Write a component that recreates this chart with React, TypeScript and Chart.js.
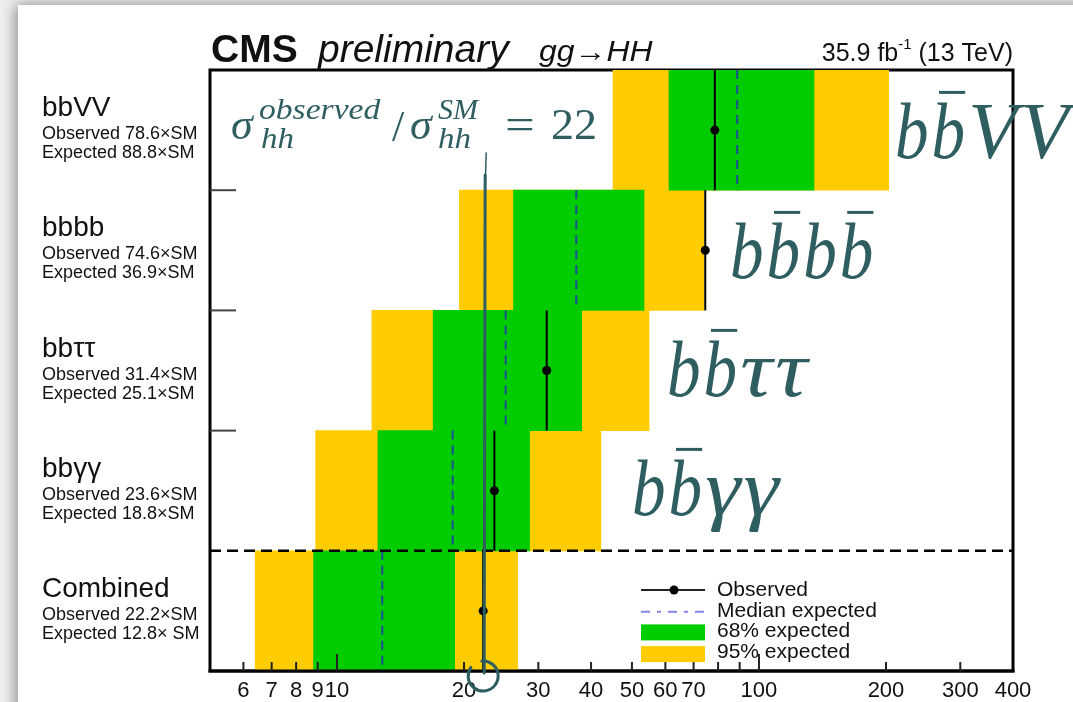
import React, { useEffect, useRef } from 'react';
import { Chart, registerables } from 'chart.js';

Chart.register(...registerables);

// ---------------- data ----------------
const categories = ['bbVV', 'bbbb', 'bbττ', 'bbγγ', 'Combined'];
const observedValues = [78.6, 74.6, 31.4, 23.6, 22.2];
const medianExpected = [88.8, 36.9, 25.1, 18.8, 12.8];
const low95 = [45.1, 19.5, 12.1, 8.9, 6.4];
const high95 = [203, 74.1, 54.9, 42.2, 26.8];
const low68 = [61.2, 26.2, 16.9, 12.5, 8.8];
const high68 = [135, 53.4, 38.0, 28.6, 19.0];
const observedText = [
  'Observed 78.6×SM',
  'Observed 74.6×SM',
  'Observed 31.4×SM',
  'Observed 23.6×SM',
  'Observed 22.2×SM',
];
const expectedText = [
  'Expected 88.8×SM',
  'Expected 36.9×SM',
  'Expected 25.1×SM',
  'Expected 18.8×SM',
  'Expected 12.8× SM',
];
const xTickValues = [6, 7, 8, 9, 10, 20, 30, 40, 50, 60, 70, 80, 90, 100, 200, 300, 400];
const xTickLabels = ['6', '7', '8', '9', '10', '20', '30', '40', '50', '60', '70', '', '', '100', '200', '300', '400'];
const xMajorTicks = [10, 100];
const annotatedRatio = 22.2;
const legendItems = ['Observed', 'Median expected', '68% expected', '95% expected'];

// ---------------- styles ----------------
const W = 1073;
const H = 702;
const YELLOW = '#ffcc00';
const GREEN = '#00cc00';
const MEDIAN_BLUE = '#1d4f93';
const TEAL = '#2f5e61';
const INK = '#111111';
const SANS = '"Liberation Sans", Arial, sans-serif';
const SERIF = '"Liberation Serif", "Times New Roman", serif';

type Part = { t: string; bar?: boolean; sx?: number };
const channelLabels: { parts: Part[]; x: number; base: number }[] = [
  { parts: [{ t: 'b' }, { t: 'b', bar: true }, { t: 'V', sx: 1.0 }, { t: 'V', sx: 1.0 }], x: 895, base: 158 },
  { parts: [{ t: 'b' }, { t: 'b', bar: true }, { t: 'b' }, { t: 'b', bar: true }], x: 730, base: 278 },
  { parts: [{ t: 'b' }, { t: 'b', bar: true }, { t: 'τ', sx: 1.12 }, { t: 'τ', sx: 1.12 }], x: 667, base: 396 },
  { parts: [{ t: 'b' }, { t: 'b', bar: true }, { t: 'γ', sx: 1.12 }, { t: 'γ', sx: 1.12 }], x: 632, base: 515 },
];

function drawScaled(ctx: CanvasRenderingContext2D, text: string, x: number, y: number, sx: number) {
  ctx.save();
  ctx.translate(x, y);
  ctx.scale(sx, 1);
  ctx.fillText(text, 0, 0);
  ctx.restore();
  return ctx.measureText(text).width * sx;
}

function drawChannel(ctx: CanvasRenderingContext2D, parts: Part[], x: number, base: number) {
  const size = 80;
  ctx.save();
  ctx.font = `italic ${size}px ${SERIF}`;
  ctx.fillStyle = TEAL;
  ctx.strokeStyle = TEAL;
  ctx.textBaseline = 'alphabetic';
  ctx.textAlign = 'left';
  let cx = x;
  for (const p of parts) {
    const w = drawScaled(ctx, p.t, cx, base, p.sx ?? 0.84);
    if (p.bar) {
      ctx.lineWidth = 3;
      ctx.beginPath();
      ctx.moveTo(cx + w * 0.22, base - size * 0.82);
      ctx.lineTo(cx + w * 1.0, base - size * 0.82);
      ctx.stroke();
    }
    cx += w + 3;
  }
  ctx.restore();
}

function drawFormula(ctx: CanvasRenderingContext2D) {
  ctx.save();
  ctx.fillStyle = TEAL;
  ctx.textBaseline = 'alphabetic';
  ctx.textAlign = 'left';
  const big = `italic 44px ${SERIF}`;
  const small = `italic 30px ${SERIF}`;
  ctx.font = big;
  drawScaled(ctx, 'σ', 231, 139, 1);
  ctx.font = small;
  drawScaled(ctx, 'observed', 259, 119, 1.12);
  drawScaled(ctx, 'hh', 261, 148, 1.1);
  ctx.font = `44px ${SERIF}`;
  drawScaled(ctx, '/', 392, 141, 1);
  ctx.font = big;
  drawScaled(ctx, 'σ', 410, 139, 1);
  ctx.font = small;
  drawScaled(ctx, 'SM', 438, 119, 1.0);
  drawScaled(ctx, 'hh', 438, 148, 1.1);
  ctx.font = `44px ${SERIF}`;
  drawScaled(ctx, '=', 505, 139, 1.2);
  drawScaled(ctx, '22', 551, 139, 1.05);
  ctx.restore();
}

const overlayPlugin = {
  id: 'overlay',
  beforeDraw(chart: any) {
    const ctx: CanvasRenderingContext2D = chart.ctx;
    ctx.save();
    ctx.fillStyle = '#efefef';
    ctx.fillRect(0, 0, W, H);
    ctx.shadowColor = 'rgba(0,0,0,0.45)';
    ctx.shadowBlur = 14;
    ctx.shadowOffsetX = -2;
    ctx.fillStyle = '#ffffff';
    ctx.fillRect(18, 5, W + 40, H + 40);
    ctx.restore();
  },
  beforeDatasetsDraw(chart: any) {
    const ctx: CanvasRenderingContext2D = chart.ctx;
    const a = chart.chartArea;
    ctx.save();
    ctx.strokeStyle = '#000';
    ctx.lineWidth = 3;
    ctx.strokeRect(a.left, a.top, a.right - a.left, a.bottom - a.top);
    ctx.restore();
  },
  afterDatasetsDraw(chart: any) {
    const ctx: CanvasRenderingContext2D = chart.ctx;
    const a = chart.chartArea;
    const xs = chart.scales.x;
    const ys = chart.scales.y;
    const rowH = Math.abs(ys.getPixelForValue(1) - ys.getPixelForValue(0));
    ctx.save();

    // bottom axis line & tick marks (inside)
    ctx.strokeStyle = '#000';
    ctx.lineWidth = 3;
    ctx.beginPath();
    ctx.moveTo(a.left - 1.5, a.bottom);
    ctx.lineTo(a.right + 1.5, a.bottom);
    ctx.stroke();
    ctx.lineWidth = 2;
    ctx.strokeStyle = '#222';
    for (const v of xTickValues) {
      const px = xs.getPixelForValue(v);
      if (px <= a.left + 2 || px >= a.right - 2) continue;
      const len = xMajorTicks.includes(v) ? 17 : 9;
      ctx.beginPath();
      ctx.moveTo(px, a.bottom);
      ctx.lineTo(px, a.bottom - len);
      ctx.stroke();
    }

    // left row ticks
    ctx.strokeStyle = '#444';
    ctx.lineWidth = 2;
    for (let i = 0; i < categories.length - 2; i++) {
      const y = ys.getPixelForValue(i) + rowH / 2;
      ctx.beginPath();
      ctx.moveTo(a.left, y);
      ctx.lineTo(a.left + 26, y);
      ctx.stroke();
    }

    // medians
    ctx.strokeStyle = MEDIAN_BLUE;
    ctx.lineWidth = 2;
    ctx.setLineDash([9, 6]);
    medianExpected.forEach((v, i) => {
      const px = xs.getPixelForValue(v);
      const yc = ys.getPixelForValue(i);
      ctx.beginPath();
      ctx.moveTo(px, yc - rowH / 2);
      ctx.lineTo(px, yc + rowH / 2);
      ctx.stroke();
    });
    ctx.setLineDash([]);

    // observed
    ctx.strokeStyle = '#000';
    ctx.fillStyle = '#000';
    ctx.lineWidth = 2;
    observedValues.forEach((v, i) => {
      const px = xs.getPixelForValue(v);
      const yc = ys.getPixelForValue(i);
      ctx.beginPath();
      ctx.moveTo(px, yc - rowH / 2);
      ctx.lineTo(px, yc + rowH / 2);
      ctx.stroke();
      ctx.beginPath();
      ctx.arc(px, yc, 4.5, 0, Math.PI * 2);
      ctx.fill();
    });

    // dashed separator before Combined
    const sepY = ys.getPixelForValue(categories.length - 1) - rowH / 2;
    ctx.strokeStyle = '#000';
    ctx.lineWidth = 2.5;
    ctx.setLineDash([11, 6]);
    ctx.beginPath();
    ctx.moveTo(a.left, sepY);
    ctx.lineTo(a.right, sepY);
    ctx.stroke();
    ctx.setLineDash([]);

    // legend
    const lx = 641;
    const lw = 64;
    const ly0 = 596;
    const step = 20.7;
    ctx.font = `21px ${SANS}`;
    ctx.fillStyle = INK;
    ctx.textAlign = 'left';
    ctx.textBaseline = 'alphabetic';
    legendItems.forEach((t, i) => ctx.fillText(t, lx + 76, ly0 + i * step));
    ctx.strokeStyle = '#222';
    ctx.lineWidth = 1.8;
    ctx.beginPath();
    ctx.moveTo(lx, ly0 - 6);
    ctx.lineTo(lx + lw, ly0 - 6);
    ctx.stroke();
    ctx.fillStyle = '#000';
    ctx.beginPath();
    ctx.arc(lx + lw / 2 + 1, ly0 - 6, 4.5, 0, Math.PI * 2);
    ctx.fill();
    ctx.strokeStyle = '#8484ee';
    ctx.lineWidth = 2;
    ctx.setLineDash([9, 7, 4, 7]);
    ctx.beginPath();
    ctx.moveTo(lx, ly0 + step - 5);
    ctx.lineTo(lx + lw, ly0 + step - 5);
    ctx.stroke();
    ctx.setLineDash([]);
    ctx.fillStyle = GREEN;
    ctx.fillRect(lx, ly0 + 2 * step - 13, lw, 16);
    ctx.fillStyle = YELLOW;
    ctx.fillRect(lx, ly0 + 3 * step - 12, lw, 16);

    ctx.restore();
  },
  afterDraw(chart: any) {
    const ctx: CanvasRenderingContext2D = chart.ctx;
    const a = chart.chartArea;
    const xs = chart.scales.x;
    const ys = chart.scales.y;
    ctx.save();

    // left labels
    ctx.fillStyle = INK;
    ctx.textAlign = 'left';
    ctx.textBaseline = 'alphabetic';
    categories.forEach((c, i) => {
      const yc = ys.getPixelForValue(i);
      ctx.font = `28px ${SANS}`;
      ctx.fillText(c, 42, yc - 14);
      ctx.font = `18px ${SANS}`;
      ctx.fillText(observedText[i], 42, yc + 9);
      ctx.fillText(expectedText[i], 42, yc + 28);
    });

    // title
    ctx.font = `bold 39px ${SANS}`;
    ctx.fillText('CMS', 211, 62);
    ctx.font = `italic 39px ${SANS}`;
    ctx.fillText('preliminary', 318, 62);
    ctx.font = `italic 29px ${SANS}`;
    drawScaled(ctx, 'gg→HH', 539, 61, 1.1);
    ctx.font = `25px ${SANS}`;
    const t1 = '35.9 fb';
    const t3 = ' (13 TeV)';
    const w1 = ctx.measureText(t1).width;
    const w3 = ctx.measureText(t3).width;
    ctx.font = `15px ${SANS}`;
    const w2 = ctx.measureText('-1').width;
    const rx = a.right - (w1 + w2 + w3);
    ctx.font = `25px ${SANS}`;
    ctx.fillText(t1, rx, 61);
    ctx.font = `15px ${SANS}`;
    ctx.fillText('-1', rx + w1, 49);
    ctx.font = `25px ${SANS}`;
    ctx.fillText(t3, rx + w1 + w2, 61);

    // annotations
    drawFormula(ctx);
    channelLabels.forEach((c) => drawChannel(ctx, c.parts, c.x, c.base));

    // hand-drawn marker line and circle
    const mx = xs.getPixelForValue(annotatedRatio) + 1;
    ctx.strokeStyle = TEAL;
    ctx.lineCap = 'round';
    ctx.lineWidth = 1.5;
    ctx.beginPath();
    ctx.moveTo(mx + 2, 153);
    ctx.lineTo(mx + 1, 190);
    ctx.stroke();
    ctx.lineWidth = 3;
    ctx.beginPath();
    ctx.moveTo(mx + 1, 175);
    ctx.lineTo(mx, a.bottom + 2);
    ctx.stroke();
    ctx.beginPath();
    ctx.arc(mx - 1, a.bottom + 5, 15, (-95 * Math.PI) / 180, (215 * Math.PI) / 180);
    ctx.stroke();

    ctx.restore();
  },
};

export default function App() {
  const ref = useRef<HTMLCanvasElement>(null);
  useEffect(() => {
    document.body.style.margin = '0';
    const canvas = ref.current!;
    const chart = new Chart(canvas, {
      type: 'bar',
      data: {
        labels: categories,
        datasets: [
          {
            label: '68% expected',
            data: categories.map((_, i) => [low68[i], high68[i]]) as any,
            backgroundColor: GREEN,
            borderWidth: 0,
            grouped: false,
            order: 0,
            barPercentage: 1,
            categoryPercentage: 1,
          } as any,
          {
            label: '95% expected',
            data: categories.map((_, i) => [low95[i], high95[i]]) as any,
            backgroundColor: YELLOW,
            borderWidth: 0,
            grouped: false,
            order: 1,
            barPercentage: 1,
            categoryPercentage: 1,
          } as any,
        ],
      },
      options: {
        indexAxis: 'y',
        responsive: false,
        animation: false,
        devicePixelRatio: 1,
        events: [],
        layout: { padding: { left: 210, right: W - 1013, top: 70, bottom: 0 } },
        plugins: { legend: { display: false }, tooltip: { enabled: false } },
        scales: {
          x: {
            type: 'logarithmic',
            min: 5,
            max: 400,
            grid: { display: false, drawTicks: false },
            border: { display: false },
            afterBuildTicks: (scale: any) => {
              scale.ticks = xTickValues.map((v) => ({ value: v }));
            },
            afterFit: (scale: any) => {
              scale.height = 31;
            },
            ticks: {
              autoSkip: false,
              maxRotation: 0,
              padding: 7,
              color: INK,
              font: { family: SANS, size: 22 },
              callback: (value: any) => {
                const idx = xTickValues.indexOf(Number(value));
                return idx >= 0 ? xTickLabels[idx] : '';
              },
            },
          },
          y: {
            type: 'category',
            display: false,
          },
        },
      } as any,
      plugins: [overlayPlugin],
    });
    return () => chart.destroy();
  }, []);
  return (
    <div style={{ width: W, height: H, position: 'relative', overflow: 'hidden' }}>
      <canvas ref={ref} width={W} height={H} style={{ display: 'block' }} />
    </div>
  );
}
